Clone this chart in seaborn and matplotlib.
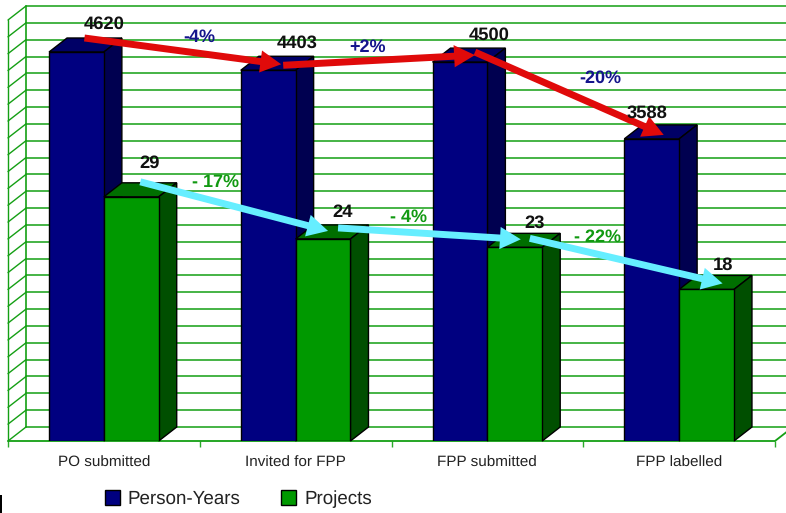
import numpy as np
import pandas as pd
import seaborn as sns
import matplotlib.pyplot as plt
from matplotlib.patches import Patch, Polygon, Rectangle
from matplotlib.transforms import IdentityTransform

categories = ["PO submitted", "Invited for FPP", "FPP submitted", "FPP labelled"]
person_years = [4620, 4403, 4500, 3588]
projects = [29, 24, 23, 18]
years_change = ["-4%", "+2%", "-20%"]
projects_change = ["- 17%", "- 4%", "- 22%"]

# projects were on a second axis, 0-50 against 0-5000
PROJECT_SCALE = 100

W, H = 786, 513
DX, DY = 18, 14   # 3d depth in pixels

sns.set_theme(style="white")
plt.rcParams['font.family'] = ['Liberation Sans', 'DejaVu Sans']
plt.rcParams['text.hinting'] = 'no_hinting'

df = pd.DataFrame({
    "category": categories * 2,
    "series": ["Person-Years"] * 4 + ["Projects"] * 4,
    "value": person_years + [p * PROJECT_SCALE for p in projects],
})

fig = plt.figure(figsize=(W / 100, H / 100), dpi=100)
ax = fig.add_axes([8 / W, (H - 441) / H, 767 / W, 421 / H])
pal = {"Person-Years": "#000080", "Projects": "#009900"}
sns.barplot(data=df, x="category", y="value", hue="series", palette=pal, saturation=1,
            width=0.572, legend=False, ax=ax, edgecolor="black", linewidth=1)
ax.set_xlim(-0.5, 3.5)
ax.set_ylim(0, 5000)
ax.set_xlabel("")
ax.set_ylabel("")
ax.set_yticks([])
ax.set_xticks(np.arange(-0.5, 4), minor=True)
ax.tick_params(axis="x", which="major", length=0, pad=10.7, labelsize=11, labelcolor="#222222")
ax.tick_params(axis="x", which="minor", length=4.3, width=1, color="#2aaa2a", bottom=True)
ax.patch.set_alpha(0)
for s in ax.spines.values():
    s.set_visible(False)

fig.canvas.draw()
px = IdentityTransform()
GRID = "#149f14"


def to_px(x, y):
    return ax.transData.transform((x, y))


# walls and floor
x0, base = to_px(-0.5, 0)
x1, top = to_px(3.5, 5000)
for v in np.arange(0, 5001, 200):
    _, yy = to_px(0, v)
    ax.plot([x0 + DX, W + 5], [yy + DY, yy + DY], transform=px, color=GRID, lw=1.1,
            clip_on=False, zorder=0.5)
    ax.plot([x0, x0 + DX], [yy, yy + DY], transform=px, color=GRID, lw=1, clip_on=False, zorder=0.5)
ax.plot([x0, x0], [base, top], transform=px, color=GRID, lw=1, clip_on=False, zorder=0.5)
ax.plot([x0 + DX, x0 + DX], [base + DY, top + DY], transform=px, color=GRID, lw=1.2, clip_on=False, zorder=0.5)
ax.plot([x0, x1, x1 + DX], [base, base, base + DY], transform=px, color=GRID, lw=1.3, clip_on=False, zorder=0.6)

# 3d faces on top of the seaborn bars
faces = {"#000080": ("#000066", "#000050", 1.5, 2),
         "#009900": ("#006f00", "#004f00", 2.5, 3)}
bars = list(ax.patches)[:8]
for i, b in enumerate(bars):
    tone = "#000080" if i < 4 else "#009900"
    top_c, side_c, z_face, z_front = faces[tone]
    (l, bt) = to_px(b.get_x(), 0)
    (r, tp) = to_px(b.get_x() + b.get_width(), b.get_height())
    ax.add_patch(Polygon([(l, tp), (r, tp), (r + DX, tp + DY), (l + DX, tp + DY)], closed=True,
                         facecolor=top_c, edgecolor="black", lw=1, transform=px, zorder=z_face, clip_on=False))
    ax.add_patch(Polygon([(r, bt), (r + DX, bt + DY), (r + DX, tp + DY), (r, tp)], closed=True,
                         facecolor=side_c, edgecolor="black", lw=1, transform=px, zorder=z_face, clip_on=False))
    b.set_zorder(z_front)


def bar_top(i):
    b = bars[i]
    return to_px(b.get_x() + b.get_width() / 2, b.get_height())


# value labels, offset from the bar tops in pixels
label_off = [(28, 28), (29, 27), (29, 27), (-5, 26), (18.5, 34), (20, 27), (20, 24), (17, 24)]
for i, val in enumerate(person_years + projects):
    xx, yy = bar_top(i)
    ox, oy = label_off[i]
    ax.text(xx + ox, yy + oy, str(val), transform=px, ha="center", va="center", fontsize=13.2,
            fontweight="bold", color="#111111", zorder=6, clip_on=False)


def arrows(first, tails, heads, color, width, head_w, head_l, texts, text_off, text_color):
    for k in range(3):
        a = bar_top(first + k) + np.array(tails[k])
        b = bar_top(first + k + 1) + np.array(heads[k])
        ax.annotate("", xy=b, xytext=a, xycoords=px, textcoords=px, annotation_clip=False, zorder=5,
                    arrowprops=dict(width=width, headwidth=head_w, headlength=head_l, shrink=0,
                                    facecolor=color, edgecolor=color, lw=0))
        m = (a + b) / 2
        ax.text(m[0] + text_off[k][0], m[1] + text_off[k][1], texts[k], transform=px, ha="center", va="center",
                fontsize=13, fontweight="bold", color=text_color, zorder=6, clip_on=False)


arrows(0, [(8, 14), (15, 5), (15, 10)], [(13, 6), (15, 7), (12, 4)], "#e00a0a", 5, 16, 15,
       years_change, [(16, 14), (-12, 13), (31, 15)], "#14148c")
arrows(4, [(9, 15), (15, 11), (15, 9)], [(5, 8), (6, 8), (16, 6)], "#66eeff", 5, 16, 15,
       projects_change, [(-19, 24), (-21, 16), (-29, 24)], "#119911")

# legend
handles = [Patch(facecolor=pal[k], edgecolor="black", lw=1, label=k) for k in pal]
fig.legend(handles=handles, loc="center left", bbox_to_anchor=(88 / W, 1 - 499 / H), ncol=2, frameon=False,
           fontsize=13.5, handlelength=0.8, handleheight=0.85, handletextpad=0.4, columnspacing=2.2,
           labelcolor="#222222")

# stray black mark in the corner of the source
fig.add_artist(Rectangle((0, 0), 2 / W, 18 / H, transform=fig.transFigure, facecolor="black", edgecolor="none"))

fig.savefig("out.png", dpi=100)
